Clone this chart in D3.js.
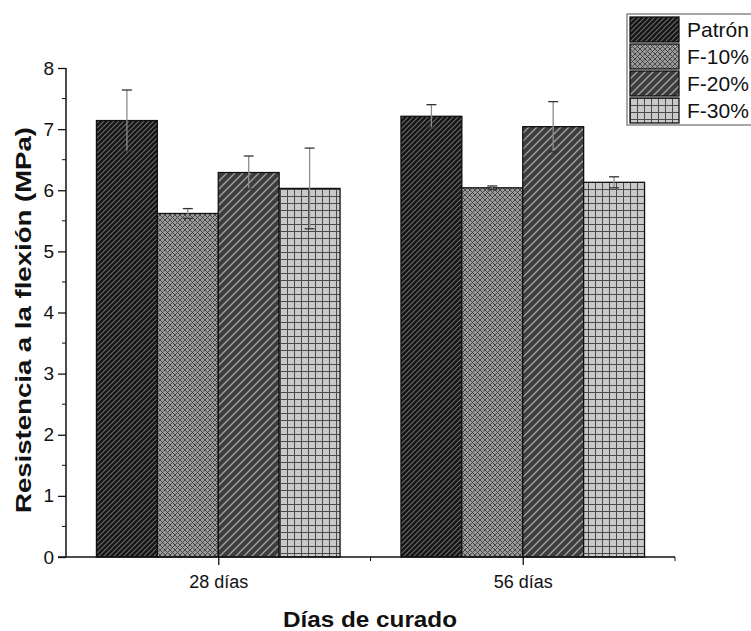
<!DOCTYPE html>
<html>
<head>
<meta charset="utf-8">
<script src="https://cdn.jsdelivr.net/npm/d3@7"></script>
<style>
  body { margin: 0; background: #fff; overflow: hidden; }
  text { font-family: "Liberation Sans", Arial, sans-serif; fill: #111; }
</style>
</head>
<body>
<div class="main-container"></div>
<script>
// data
var categories = ["28 días", "56 días"];
var seriesNames = ["Patrón", "F-10%", "F-20%", "F-30%"];
var patron = [7.14, 7.21];
var f10 = [5.62, 6.04];
var f20 = [6.29, 7.04];
var f30 = [6.03, 6.13];
var patronErr = [0.50, 0.19];
var f10Err = [0.08, 0.03];
var f20Err = [0.27, 0.41];
var f30Err = [0.66, 0.09];
var yTicks = [0, 1, 2, 3, 4, 5, 6, 7, 8];

var means = [patron, f10, f20, f30];
var errs = [patronErr, f10Err, f20Err, f30Err];

var width = 751, height = 631;

var svg = d3.select(".main-container")
    .append("svg")
    .attr("width", width)
    .attr("height", height);

// hatch patterns
var defs = svg.append("defs");

var p0 = defs.append("pattern").attr("id", "pat0")
    .attr("patternUnits", "userSpaceOnUse").attr("width", 5).attr("height", 5);
p0.append("rect").attr("width", 5).attr("height", 5).attr("fill", "#151515");
p0.append("path").attr("d", "M0,5L5,0M-1,1L1,-1M4,6L6,4")
    .attr("stroke", "#6a6a6a").attr("stroke-width", 1.1);

var p1 = defs.append("pattern").attr("id", "pat1")
    .attr("patternUnits", "userSpaceOnUse").attr("width", 5).attr("height", 5);
p1.append("rect").attr("width", 5).attr("height", 5).attr("fill", "#9a9a9a");
p1.append("path").attr("d", "M0,5L5,0M-1,1L1,-1M4,6L6,4M0,0L5,5M-1,4L1,6M4,-1L6,1")
    .attr("stroke", "#3e3e3e").attr("stroke-width", 0.9);

var p2 = defs.append("pattern").attr("id", "pat2")
    .attr("patternUnits", "userSpaceOnUse").attr("width", 8).attr("height", 8);
p2.append("rect").attr("width", 8).attr("height", 8).attr("fill", "#3d3d3d");
p2.append("path").attr("d", "M0,8L8,0M-1,1L1,-1M7,9L9,7")
    .attr("stroke", "#a0a0a0").attr("stroke-width", 1.4);

var p3 = defs.append("pattern").attr("id", "pat3")
    .attr("patternUnits", "userSpaceOnUse").attr("width", 7).attr("height", 7);
p3.append("rect").attr("width", 7).attr("height", 7).attr("fill", "#c9c9c9");
p3.append("path").attr("d", "M0.5,0V7M0,0.5H7")
    .attr("stroke", "#4a4a4a").attr("stroke-width", 1);

var fills = ["url(#pat0)", "url(#pat1)", "url(#pat2)", "url(#pat3)"];

// scales
var x = d3.scaleLinear().domain([0.5, 2.5]).range([66, 675]);
var y = d3.scaleLinear().domain([0, 8]).range([557, 68]);
var barW = 0.2;

// bars
categories.forEach(function (c, g) {
    var center = g + 1;
    seriesNames.forEach(function (s, i) {
        var x0 = center - 0.4 + i * barW;
        svg.append("rect")
            .attr("x", x(x0))
            .attr("y", y(means[i][g]))
            .attr("width", x(x0 + barW) - x(x0))
            .attr("height", y(0) - y(means[i][g]))
            .attr("fill", fills[i])
            .attr("stroke", "#111")
            .attr("stroke-width", 1.3);
    });
});

// error bars
categories.forEach(function (c, g) {
    var center = g + 1;
    seriesNames.forEach(function (s, i) {
        var cx = x(center - 0.4 + (i + 0.5) * barW);
        var hi = y(means[i][g] + errs[i][g]);
        var lo = y(means[i][g] - errs[i][g]);
        svg.append("line")
            .attr("x1", cx).attr("x2", cx).attr("y1", hi).attr("y2", lo)
            .attr("stroke", "#8c8c8c").attr("stroke-width", 1.3);
        [hi, lo].forEach(function (yy) {
            svg.append("line")
                .attr("x1", cx - 5).attr("x2", cx + 5).attr("y1", yy).attr("y2", yy)
                .attr("stroke", "#333").attr("stroke-width", 1.3);
        });
    });
});

// y axis
var yAxis = d3.axisLeft(y).tickValues(yTicks).tickSize(8).tickPadding(5)
    .tickFormat(d3.format("d"));
var gy = svg.append("g").attr("transform", "translate(" + x(0.5) + ",0)").call(yAxis);
gy.selectAll(".tick text").attr("font-size", 19).attr("font-family", null).attr("dx", 1);
gy.append("g").selectAll("line")
    .data(d3.range(0.5, 8, 1))
    .enter().append("line")
    .attr("x1", -4).attr("x2", 0)
    .attr("y1", function (d) { return y(d); }).attr("y2", function (d) { return y(d); })
    .attr("stroke", "#111");
gy.select(".domain").attr("d", "M0," + y(8) + "V" + y(0));

// x axis
var xAxis = d3.axisBottom(x).tickValues([1, 2]).tickSize(8).tickPadding(10)
    .tickFormat(function (d) { return categories[d - 1]; });
var gx = svg.append("g").attr("transform", "translate(0," + y(0) + ")").call(xAxis);
gx.selectAll(".tick text").attr("font-size", 18).attr("font-family", null);
gx.append("g").selectAll("line")
    .data([1.5, 2.5])
    .enter().append("line")
    .attr("x1", function (d) { return x(d); }).attr("x2", function (d) { return x(d); })
    .attr("y1", 0).attr("y2", 4)
    .attr("stroke", "#111");
gx.select(".domain").attr("d", "M" + (x(0.5) - 8) + ",0H" + x(2.5));

svg.selectAll(".domain").attr("stroke", "#111").attr("stroke-width", 1.5);
svg.selectAll(".tick line").attr("stroke", "#111").attr("stroke-width", 1.3);

// axis titles
svg.append("text")
    .attr("x", 370).attr("y", 627)
    .attr("text-anchor", "middle")
    .attr("font-size", 22).attr("font-weight", "bold")
    .attr("textLength", 174).attr("lengthAdjust", "spacingAndGlyphs")
    .text("Días de curado");

svg.append("text")
    .attr("transform", "translate(31,320) rotate(-90)")
    .attr("text-anchor", "middle")
    .attr("font-size", 22).attr("font-weight", "bold")
    .attr("textLength", 386).attr("lengthAdjust", "spacingAndGlyphs")
    .text("Resistencia a la flexión (MPa)");

// legend
var legend = svg.append("g").attr("transform", "translate(627,14)");
legend.append("rect")
    .attr("x", 0).attr("y", 0).attr("width", 160).attr("height", 111)
    .attr("fill", "#fff").attr("stroke", "#8a8a8a").attr("stroke-width", 1.5);
seriesNames.forEach(function (s, i) {
    var row = legend.append("g").attr("transform", "translate(3," + (3 + i * 27) + ")");
    row.append("rect")
        .attr("width", 49).attr("height", 25)
        .attr("fill", fills[i]).attr("stroke", "#111").attr("stroke-width", 1.3);
    row.append("text")
        .attr("x", 57).attr("y", 20)
        .attr("font-size", 21)
        .text(s);
});
</script>
</body>
</html>
